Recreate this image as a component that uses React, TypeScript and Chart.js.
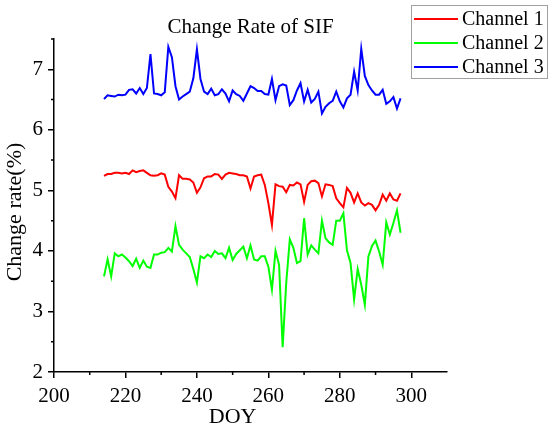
import { useEffect, useRef } from 'react';
import Chart from 'chart.js/auto';

const doy = [
  214, 215, 216, 217, 218, 219, 220, 221, 222, 223, 224, 225, 226, 227,
  228, 229, 230, 231, 232, 233, 234, 235, 236, 237, 238, 239, 240, 241,
  242, 243, 244, 245, 246, 247, 248, 249, 250, 251, 252, 253, 254, 255,
  256, 257, 258, 259, 260, 261, 262, 263, 264, 265, 266, 267, 268, 269,
  270, 271, 272, 273, 274, 275, 276, 277, 278, 279, 280, 281, 282, 283,
  284, 285, 286, 287, 288, 289, 290, 291, 292, 293, 294, 295, 296, 297,
];

const channel1 = [
  5.24, 5.27, 5.27, 5.29, 5.29, 5.28, 5.29, 5.27, 5.33, 5.30, 5.32, 5.33, 5.29, 5.25,
  5.24, 5.25, 5.28, 5.26, 5.06, 4.98, 4.87, 5.25, 5.19, 5.19, 5.18, 5.13, 4.96, 5.05,
  5.20, 5.23, 5.23, 5.27, 5.26, 5.19, 5.26, 5.29, 5.28, 5.27, 5.25, 5.25, 5.23, 5.03,
  5.23, 5.25, 5.26, 5.09, 4.79, 4.43, 5.10, 5.07, 5.06, 4.97, 5.09, 5.08, 5.13, 5.10,
  4.81, 5.09, 5.15, 5.16, 5.12, 4.90, 5.10, 5.09, 5.07, 4.87, 4.79, 4.72, 5.04, 4.96,
  4.80, 4.95, 4.80, 4.75, 4.79, 4.76, 4.67, 4.76, 4.93, 4.83, 4.95, 4.85, 4.83, 4.95,
];

const channel2 = [
  3.58, 3.86, 3.58, 3.96, 3.91, 3.94, 3.89, 3.83, 3.75, 3.87, 3.72, 3.84, 3.74, 3.72,
  3.94, 3.94, 3.97, 3.98, 4.05, 3.99, 4.41, 4.10, 4.02, 3.96, 3.90, 3.70, 3.48, 3.91,
  3.88, 3.94, 3.90, 4.00, 3.95, 3.96, 3.88, 4.05, 3.85, 3.95, 4.01, 4.07, 3.88, 4.09,
  3.86, 3.84, 3.91, 3.91, 3.74, 3.36, 4.00, 3.77, 2.41, 3.47, 4.19, 4.05, 3.80, 3.83,
  4.54, 3.94, 4.09, 4.02, 3.96, 4.50, 4.21, 4.14, 4.10, 4.50, 4.50, 4.62, 4.01, 3.80,
  3.20, 3.70, 3.44, 3.11, 3.91, 4.08, 4.17, 3.99, 3.77, 4.47, 4.27, 4.46, 4.67, 4.30,
];

const channel3 = [
  6.51, 6.57, 6.56, 6.55, 6.58, 6.57, 6.58, 6.66, 6.67, 6.60, 6.69, 6.59, 6.69, 7.25,
  6.60, 6.59, 6.57, 6.62, 7.37, 7.20, 6.72, 6.50, 6.55, 6.59, 6.63, 6.85, 7.33, 6.84,
  6.63, 6.59, 6.68, 6.57, 6.59, 6.67, 6.60, 6.47, 6.65, 6.59, 6.56, 6.48, 6.60, 6.72,
  6.69, 6.64, 6.64, 6.59, 6.58, 6.84, 6.49, 6.72, 6.75, 6.73, 6.41, 6.49, 6.65, 6.77,
  6.47, 6.66, 6.45, 6.51, 6.63, 6.27, 6.38, 6.44, 6.48, 6.63, 6.47, 6.37, 6.52, 6.58,
  6.96, 6.65, 7.34, 6.89, 6.74, 6.65, 6.58, 6.58, 6.66, 6.43, 6.47, 6.54, 6.35, 6.52,
];

const seriesNames = ['Channel 1', 'Channel 2', 'Channel 3'];
const seriesColors = ['#ff0000', '#00ff00', '#0000ff'];
const chartTitle = 'Change Rate of SIF';
const xTitle = 'DOY';
const yTitle = 'Change rate(%)';

// малые деления осей
const xMinorTicks = [210, 230, 250, 270, 290];
const yMinorTicks = [2.5, 3.5, 4.5, 5.5, 6.5, 7.5];

const FONT = "'Liberation Serif', 'Times New Roman', serif";

// заголовки, малые деления и легенда рисуются вручную поверх графика
const overlayPlugin = {
  id: 'overlay',
  afterDraw(chart: any) {
    const ctx = chart.ctx;
    const area = chart.chartArea;
    const xs = chart.scales.x;
    const ys = chart.scales.y;
    ctx.save();

    // малые деления
    ctx.strokeStyle = '#000';
    ctx.lineWidth = 1.5;
    ctx.beginPath();
    xMinorTicks.forEach((v) => {
      const px = xs.getPixelForValue(v);
      ctx.moveTo(px, area.bottom);
      ctx.lineTo(px, area.bottom + 3);
    });
    yMinorTicks.forEach((v) => {
      const py = ys.getPixelForValue(v);
      ctx.moveTo(area.left, py);
      ctx.lineTo(area.left - 3, py);
    });
    ctx.stroke();

    ctx.fillStyle = '#000';
    ctx.font = `21px ${FONT}`;
    ctx.textAlign = 'center';
    ctx.textBaseline = 'alphabetic';
    ctx.fillText(chartTitle, (area.left + area.right) / 2, 33);

    // подпись оси X центрируется по DOY 250, как в оригинале
    ctx.font = `22px ${FONT}`;
    ctx.fillText(xTitle, xs.getPixelForValue(250), 423);

    ctx.save();
    ctx.translate(21, 212);
    ctx.rotate(-Math.PI / 2);
    ctx.fillText(yTitle, 0, 0);
    ctx.restore();

    // рамка легенды
    const bx = 411, by = 5, bw = 137, bh = 74;
    ctx.fillStyle = '#fff';
    ctx.fillRect(bx, by, bw, bh);
    ctx.strokeStyle = '#a0a0a0';
    ctx.lineWidth = 1;
    ctx.strokeRect(bx + 0.5, by + 0.5, bw - 1, bh - 1);

    ctx.font = `20px ${FONT}`;
    ctx.textAlign = 'left';
    ctx.textBaseline = 'middle';
    seriesNames.forEach((name, i) => {
      const y = 19 + i * 24;
      ctx.strokeStyle = seriesColors[i];
      ctx.lineWidth = 2;
      ctx.beginPath();
      ctx.moveTo(414, y);
      ctx.lineTo(458, y);
      ctx.stroke();
      ctx.fillStyle = '#000';
      ctx.fillText(name, 462, y + 1);
    });
    ctx.restore();
  },
};

const App = () => {
  const canvasRef = useRef<HTMLCanvasElement>(null);

  useEffect(() => {
    document.body.style.margin = '0';
    if (!canvasRef.current) return;
    const series = [channel1, channel2, channel3];

    const chart = new Chart(canvasRef.current, {
      type: 'line',
      data: {
        datasets: series.map((values, i) => ({
          label: seriesNames[i],
          data: values.map((v, j) => ({ x: doy[j], y: v })),
          borderColor: seriesColors[i],
          backgroundColor: seriesColors[i],
          borderWidth: 2,
          pointRadius: 0,
          tension: 0,
        })),
      },
      options: {
        responsive: false,
        animation: false,
        events: [],
        layout: {
          padding: { top: 39, right: 103, left: 0, bottom: 0 },
        },
        plugins: {
          legend: { display: false },
          title: { display: false },
          tooltip: { enabled: false },
        },
        scales: {
          x: {
            type: 'linear',
            min: 200,
            max: 310,
            afterFit: (scale: any) => {
              scale.height = 57;
            },
            border: { display: true, color: '#000', width: 1.5 },
            grid: {
              drawOnChartArea: false,
              lineWidth: 1.5,
              tickLength: 6,
              tickColor: (c: any) =>
                c.tick && c.tick.value % 20 === 0 ? '#000' : 'rgba(0,0,0,0)',
            },
            ticks: {
              stepSize: 10,
              color: '#000',
              font: { family: FONT, size: 21 },
              padding: 6,
              maxRotation: 0,
              autoSkip: false,
              callback: (v: any) => (Number(v) % 20 === 0 ? String(v) : ''),
            },
          },
          y: {
            min: 2,
            max: 7.5,
            afterFit: (scale: any) => {
              scale.width = 54;
            },
            border: { display: true, color: '#000', width: 1.5 },
            grid: {
              drawOnChartArea: false,
              lineWidth: 1.5,
              tickLength: 6,
              tickColor: (c: any) =>
                c.tick && Number.isInteger(c.tick.value) ? '#000' : 'rgba(0,0,0,0)',
            },
            ticks: {
              stepSize: 0.5,
              color: '#000',
              font: { family: FONT, size: 21 },
              padding: 5,
              autoSkip: false,
              callback: (v: any) => (Number.isInteger(Number(v)) ? String(v) : ''),
            },
          },
        },
      },
      plugins: [overlayPlugin],
    });

    return () => {
      chart.destroy();
    };
  }, []);

  return (
    <div style={{ width: 550, height: 429, background: '#fff' }}>
      <canvas ref={canvasRef} width={550} height={429} />
    </div>
  );
};

export default App;
